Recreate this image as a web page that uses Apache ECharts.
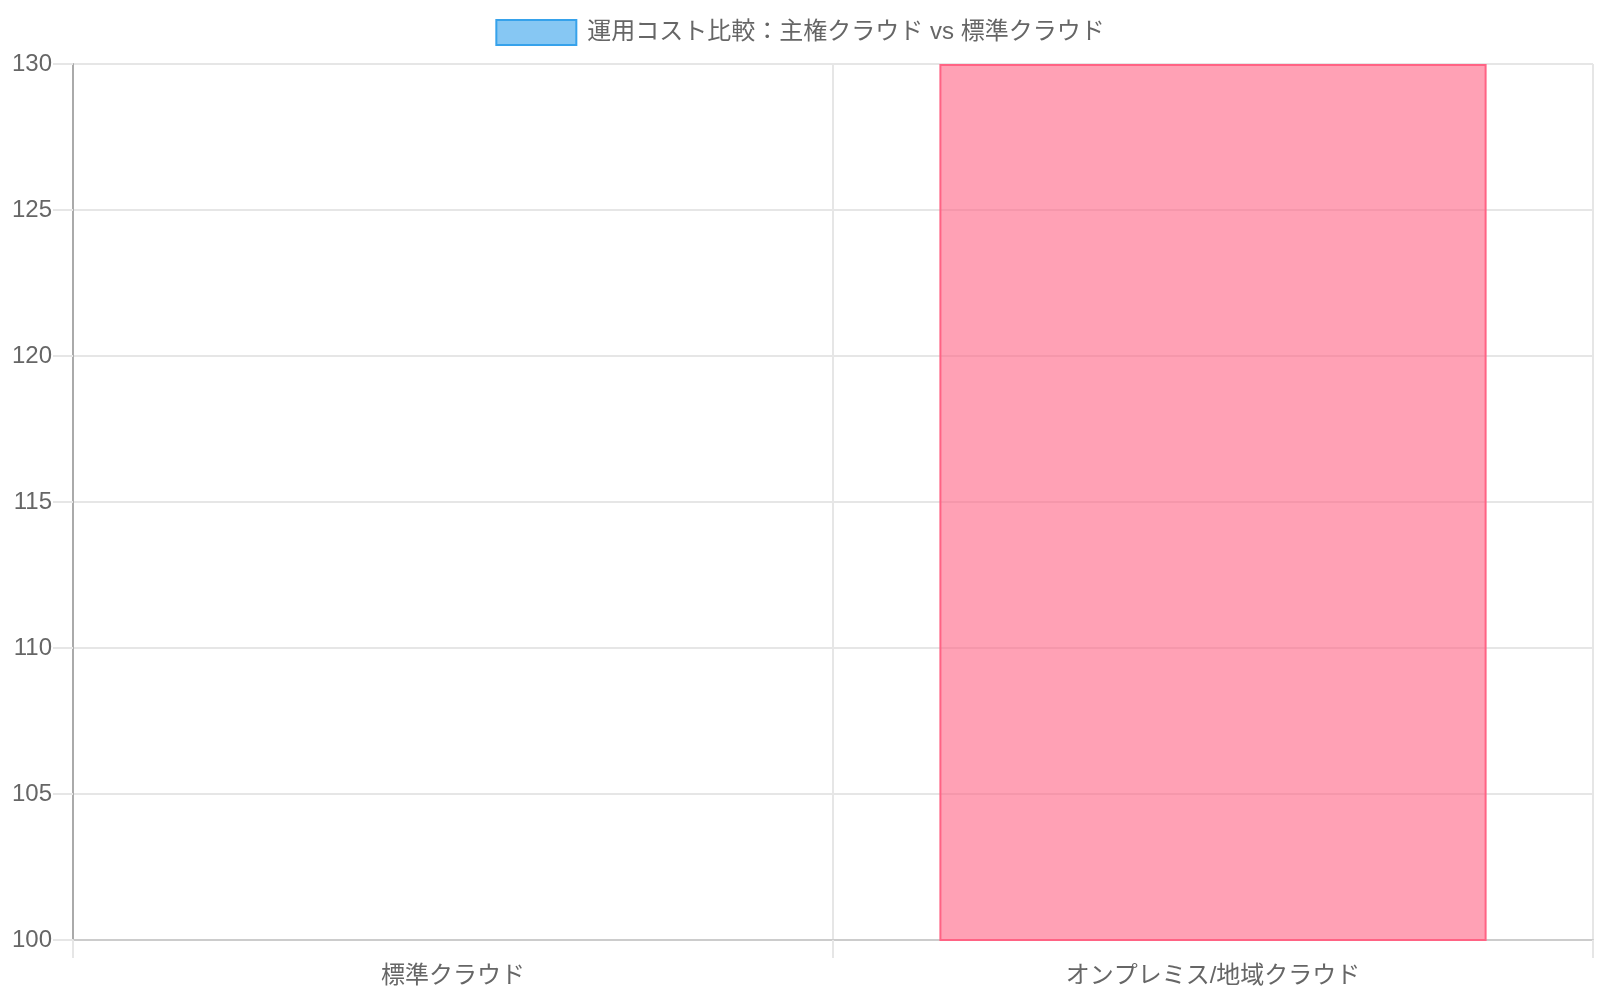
<!DOCTYPE html>
<html>
<head>
<meta charset="utf-8">
<title>運用コスト比較</title>
<script src="https://cdn.jsdelivr.net/npm/echarts@6/dist/echarts.min.js"></script>
<style>
  html, body { margin: 0; padding: 0; background: #fff; }
  #chart { width: 1600px; height: 1000px; }
</style>
</head>
<body>
<div id="chart"></div>
<script>
// data
const seriesName = '運用コスト比較：主権クラウド vs 標準クラウド'
const categories = ['標準クラウド', 'オンプレミス/地域クラウド']
const costValues = [100, 130]
const yTicks = { min: 100, max: 130, step: 5 }

const fillColors = ['rgba(54, 162, 235, 0.6)', 'rgba(255, 99, 132, 0.6)']
const lineColors = ['rgb(54, 162, 235)', 'rgb(255, 99, 132)']

const fontFamily = "'Liberation Sans', 'Noto Sans CJK JP', sans-serif"
const gridColor = '#e6e6e6'

const chart = echarts.init(document.getElementById('chart'))

chart.setOption({
  animation: false,
  backgroundColor: '#fff',
  textStyle: { fontFamily },
  legend: {
    top: 14,
    left: 'center',
    icon: 'rect',
    itemWidth: 80,
    itemHeight: 25,
    selectedMode: false,
    textStyle: { fontSize: 24, color: '#666', fontFamily, padding: [0, 0, 0, 6] },
    data: [seriesName]
  },
  grid: { left: 73, right: 7, top: 64, bottom: 60, containLabel: false },
  xAxis: {
    type: 'category',
    data: categories,
    boundaryGap: true,
    axisLine: { show: true, lineStyle: { color: '#ccc', width: 2 } },
    axisTick: { show: true, length: 18, lineStyle: { color: gridColor, width: 2 } },
    splitLine: { show: true, lineStyle: { color: gridColor, width: 2 } },
    axisLabel: { fontSize: 24, color: '#666', fontFamily, margin: 24 }
  },
  yAxis: {
    type: 'value',
    min: yTicks.min,
    max: yTicks.max,
    interval: yTicks.step,
    axisLine: { show: true, lineStyle: { color: '#aaa', width: 2 } },
    axisTick: { show: true, length: 20, lineStyle: { color: gridColor, width: 2 } },
    splitLine: { show: true, lineStyle: { color: gridColor, width: 2 } },
    axisLabel: { fontSize: 24, color: '#666', fontFamily, margin: 21 }
  },
  series: [{
    name: seriesName,
    type: 'bar',
    barWidth: '72%',
    itemStyle: { color: fillColors[0], borderColor: lineColors[0], borderWidth: 2 },
    data: costValues.map((v, i) => ({
      value: v,
      itemStyle: {
        color: fillColors[i],
        borderColor: lineColors[i],
        // a bar sitting on the baseline has no visible outline
        borderWidth: v <= yTicks.min ? 0 : 2
      }
    }))
  }]
})
</script>
</body>
</html>
